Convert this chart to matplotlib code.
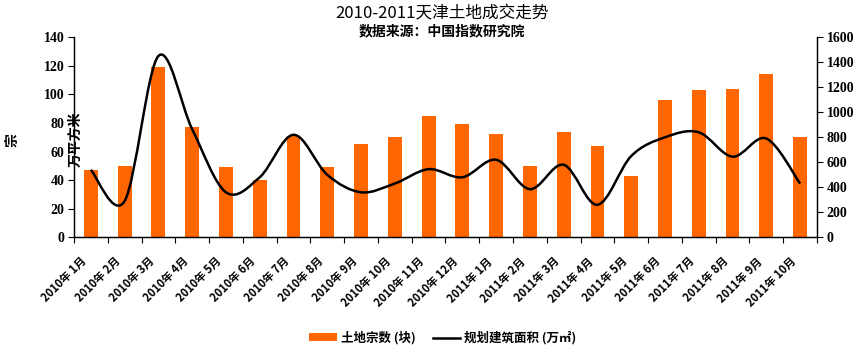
import numpy as np
import matplotlib
matplotlib.use("Agg")
import matplotlib.pyplot as plt
import matplotlib.transforms as mtransforms
from matplotlib.path import Path
from matplotlib.patches import PathPatch, Patch
from matplotlib.lines import Line2D

plt.rcParams['font.family'] = ['Noto Sans CJK SC', 'DejaVu Sans']

# =========================================================
# DATA
# =========================================================
months = ["2010年 1月", "2010年 2月", "2010年 3月", "2010年 4月", "2010年 5月",
          "2010年 6月", "2010年 7月", "2010年 8月", "2010年 9月", "2010年 10月",
          "2010年 11月", "2010年 12月", "2011年 1月", "2011年 2月", "2011年 3月",
          "2011年 4月", "2011年 5月", "2011年 6月", "2011年 7月", "2011年 8月",
          "2011年 9月", "2011年 10月"]
land_count = [47, 50, 119, 77, 49, 40, 71, 49, 65, 70, 85,
              79, 72, 50, 74, 64, 43, 96, 103, 104, 114, 70]
build_area = [540, 290, 1450, 865, 360, 480, 820, 500, 360, 430, 545,
              480, 620, 385, 580, 260, 650, 800, 840, 645, 790, 430]
left_ticks = list(range(0, 141, 20))
right_ticks = list(range(0, 1601, 200))

ORANGE = "#FF6600"

# =========================================================
# FIGURE
# =========================================================
fig = plt.figure(figsize=(8.65, 3.54), dpi=100)
ax = fig.add_axes([0.0855, 0.3297, 0.859, 0.565])
ax2 = ax.twinx()

x = np.arange(len(months))
ax.bar(x, land_count, width=0.41, color=ORANGE, zorder=2)

# smooth line (Excel style Bezier through the data points)
pts = np.column_stack([x, build_area]).astype(float)
n = len(pts)
verts = [pts[0]]
codes = [Path.MOVETO]
for i in range(n - 1):
    p0 = pts[i - 1] if i > 0 else pts[i]
    p1 = pts[i]
    p2 = pts[i + 1]
    p3 = pts[i + 2] if i + 2 < n else pts[i + 1]
    c1 = p1 + (p2 - p0) / 6.0
    c2 = p2 - (p3 - p1) / 6.0
    verts += [c1, c2, p2]
    codes += [Path.CURVE4] * 3
ax2.add_patch(PathPatch(Path(verts, codes), fill=False, edgecolor="black", lw=1.8, zorder=3))

# axes limits / ticks
ax.set_xlim(-0.5, len(months) - 0.5)
ax.set_ylim(0, 140)
ax.set_yticks(left_ticks)
ax2.set_ylim(0, 1600)
ax2.set_yticks(right_ticks)

ax.set_xticks(x)
ax.set_xticklabels(months, rotation=45, ha="right", va="center",
                   rotation_mode="anchor", fontsize=8, fontweight="bold")
ax.tick_params(axis="x", length=0, pad=16)
ax.set_xticks(np.arange(-0.5, len(months)), minor=True)
ax.tick_params(axis="x", which="minor", length=4, direction="out", width=0.8)

ax.tick_params(axis="y", length=4, width=0.8, pad=3, labelsize=10,
               labelfontfamily="Liberation Serif")
ax2.tick_params(axis="y", length=4, width=0.8, pad=3, labelsize=10,
                labelfontfamily="Liberation Serif")

for a in (ax, ax2):
    a.spines["top"].set_visible(False)
    for s in ("left", "right", "bottom"):
        a.spines[s].set_linewidth(0.9)

# =========================================================
# TEXT
# =========================================================
fig.text(0.511, 0.962, "2010-2011天津土地成交走势", ha="center", va="center", fontsize=12)
fig.text(0.511, 0.910, "数据来源：中国指数研究院", ha="center", va="center",
         fontsize=10, fontweight="bold")
fig.text(0.014, 0.604, "宗", rotation=90, ha="center", va="center",
         fontsize=10, fontweight="bold")
fig.text(0.087, 0.607, "万平方米", rotation=90, ha="center", va="center",
         fontsize=10, fontweight="bold")

handles = [Patch(facecolor=ORANGE, edgecolor="none"),
           Line2D([0], [0], color="black", lw=1.8)]
fig.legend(handles, ["土地宗数 (块)", "规划建筑面积 (万㎡)"], loc="center",
           bbox_to_anchor=(0.512, 0.045), ncol=2, frameon=False,
           prop=dict(size=9, weight="bold"), handlelength=2.2, handleheight=0.6,
           columnspacing=1.4, handletextpad=0.3)

# tick label fine tuning after layout
fig.canvas.draw()
shift = mtransforms.ScaledTranslation(-6 / 100, 0, fig.dpi_scale_trans)
for lab in ax.get_xticklabels():
    lab.set_transform(lab.get_transform() + shift)
for lab in ax.get_yticklabels() + ax2.get_yticklabels():
    lab.set_fontweight("bold")
    lab.set_fontfamily("Liberation Serif")

fig.savefig("out.png", dpi=100)
